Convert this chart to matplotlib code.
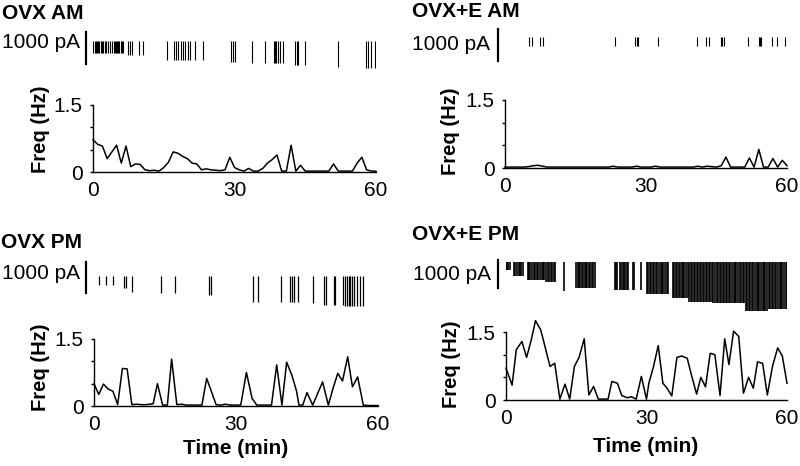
import matplotlib
matplotlib.use('Agg')
import matplotlib.pyplot as plt

plt.rcParams['font.family'] = ['Liberation Sans', 'DejaVu Sans']

# ---------------- data ----------------
titles = ['OVX AM', 'OVX+E AM', 'OVX PM', 'OVX+E PM']

# frequency (Hz) per ~1 min bin
minutes = list(range(61))
freq_ovx_am = [0.72, 0.62, 0.58, 0.30, 0.45, 0.60, 0.20, 0.58, 0.12, 0.18,
               0.17, 0.05, 0.03, 0.04, 0.02, 0.10, 0.22, 0.45, 0.42, 0.35,
               0.30, 0.20, 0.18, 0.05, 0.07, 0.05, 0.04, 0.03, 0.05, 0.33,
               0.10, 0.05, 0.02, 0.08, 0.02, 0.02, 0.08, 0.20, 0.28, 0.38,
               0.02, 0.02, 0.60, 0.02, 0.15, 0.02, 0.02, 0.02, 0.02, 0.02,
               0.02, 0.18, 0.02, 0.02, 0.02, 0.02, 0.20, 0.33, 0.05, 0.02,
               0.02]
freq_ovxe_am = [0.02, 0.02, 0.02, 0.02, 0.02, 0.03, 0.05, 0.06, 0.04, 0.02,
                0.02, 0.02, 0.02, 0.02, 0.02, 0.02, 0.02, 0.02, 0.02, 0.02,
                0.02, 0.02, 0.02, 0.04, 0.02, 0.02, 0.02, 0.02, 0.04, 0.02,
                0.02, 0.02, 0.04, 0.02, 0.02, 0.02, 0.02, 0.02, 0.02, 0.02,
                0.02, 0.04, 0.02, 0.04, 0.03, 0.02, 0.05, 0.24, 0.02, 0.02,
                0.02, 0.02, 0.22, 0.02, 0.41, 0.02, 0.02, 0.21, 0.02, 0.17,
                0.05]
time_ovx_pm = [0, 1, 2, 3, 4, 5, 6, 7, 8, 9, 10, 11, 12.5, 13.4, 14.5, 15.5,
               16.4, 17.5, 18.5, 19.5, 20.5, 21.7, 22.8, 23.8, 25.8, 26.8,
               27.8, 28.8, 30, 31, 32.2, 33.4, 34.4, 35.5, 36.5, 37.5, 38.6,
               39.7, 40.7, 41.8, 42.8, 43.3, 44.1, 45.0, 46.2, 48.3, 49.5,
               50.6, 51.5, 52.5, 53.6, 54.6, 55.7, 56.9, 58, 59, 60]
freq_ovx_pm = [0.50, 0.26, 0.49, 0.38, 0.33, 0.03, 0.84, 0.83, 0.03, 0.04,
               0.03, 0.03, 0.05, 0.50, 0.02, 0.02, 1.05, 0.03, 0.04, 0.02,
               0.02, 0.02, 0.02, 0.62, 0.03, 0.02, 0.04, 0.02, 0.02, 0.02,
               0.75, 0.17, 0.02, 0.02, 0.02, 0.02, 0.92, 0.02, 0.98, 0.69,
               0.33, 0.02, 0.02, 0.30, 0.02, 0.54, 0.02, 0.43, 0.73, 0.56,
               1.10, 0.43, 0.65, 0.02, 0.01, 0.01, 0.01]
time_ovxe_pm = [0, 1.3, 2.2, 3.4, 4.4, 5.4, 6.3, 7.4, 8.4, 9.4, 10.4, 11.5,
                12.6, 13.6, 14.6, 15.6, 16.7, 17.7, 18.7, 19.7, 20.8, 21.8,
                22.6, 23.8, 24.7, 25.9, 26.8, 27.8, 28.9, 30.0, 30.5, 31.5,
                32.5, 33.5, 34.4, 35.4, 36.5, 37.5, 38.7, 39.6, 40.7, 41.6,
                42.6, 43.6, 44.6, 45.7, 46.7, 47.6, 48.6, 49.7, 50.7, 51.8,
                52.8, 53.7, 54.8, 55.8, 56.9, 58.0, 59.0, 60.0]
freq_ovxe_pm = [0.70, 0.33, 1.11, 1.29, 0.94, 1.33, 1.75, 1.55, 1.15, 0.74,
                0.81, 0.02, 0.35, 0.02, 0.74, 0.94, 1.35, 0.11, 0.30, 0.02,
                0.02, 0.02, 0.41, 0.37, 0.10, 0.05, 0.07, 0.02, 0.52, 0.02,
                0.37, 0.74, 1.20, 0.37, 0.26, 0.09, 0.94, 0.97, 0.92, 0.55,
                0.13, 0.50, 0.29, 1.03, 1.00, 0.10, 1.35, 0.78, 1.52, 1.40,
                0.15, 0.50, 0.26, 0.84, 0.81, 0.11, 0.74, 1.15, 0.97, 0.37]

# current events: (amplitude in pA, event times in min)
events_ovx_am = [
    (380, [0.1, 0.35, 0.6, 0.85, 1.1, 1.35, 1.6, 1.85, 2.1, 2.5, 2.8, 3.1,
           3.5, 4.1, 4.35, 4.6, 4.85, 5.1, 5.35, 5.6, 5.85, 6.1, 6.4]),
    (450, [7.5, 7.8, 8.3, 9.8, 10.7]),
    (600, [15.7, 17.1, 17.6, 18.1, 18.6, 19.1, 19.6, 20.1, 20.6, 21.6, 23.4]),
    (650, [29.2, 29.6, 30.1]),
    (700, [33.8, 36.4, 38.4, 38.6, 38.9, 39.3, 39.6, 40.2]),
    (750, [42.8, 43.2, 43.5, 44.9]),
    (810, [52.0]),
    (850, [57.9, 58.4, 58.9, 59.8]),
]
events_ovxe_am = [
    (280, [5.2, 5.8, 7.4, 8.1, 23.5, 27.7, 28.1, 28.4, 32.6, 40.9, 42.8, 43.3,
           46.0, 46.2, 46.5, 51.6, 54.0, 54.2, 54.4, 56.8, 57.9, 59.6]),
]
events_ovx_pm = [
    (290, [1.1, 2.5, 4.0]),
    (390, [6.4, 6.8]),
    (520, [8.1]),
    (550, [14.1, 17.1]),
    (620, [24.3, 24.7]),
    (840, [33.5, 34.7, 39.5, 41.4, 41.9, 42.3, 43.2]),
    (880, [46.2]),
    (940, [48.6, 49.0, 50.6, 51.0, 52.5]),
    (970, [53.1, 53.4, 53.8, 54.1, 54.6, 55.0, 55.5, 56.2, 56.8]),
]
events_ovxe_pm = [
    (300, [0.1, 0.3, 0.5, 0.8]),
    (500, [1.7, 2.0, 2.3, 2.7, 3.0, 3.3, 3.6]),
    (640, [4.6, 4.9, 5.2, 5.6, 5.9, 6.2, 6.6, 6.9, 7.2, 7.6, 7.9, 8.2]),
    (710, [8.6, 8.9, 9.2, 9.6, 9.9, 10.2, 10.5]),
    (1050, [12.4]),
    (930, [15.0, 15.3, 15.6, 15.9, 16.2, 16.5, 16.8, 17.1, 17.4, 17.7, 18.0,
           18.3, 18.6, 18.9]),
    (1000, [23.2, 23.5, 23.8, 24.3, 24.6, 24.9, 25.2, 25.5, 25.8, 26.1, 27.2,
            27.4, 28.9]),
    (1140, [30.1, 30.4, 30.7, 31.0, 31.4, 31.7, 32.0, 32.3, 32.6, 33.0, 33.3,
            33.6, 33.9, 34.3, 34.6]),
    (1290, [35.6, 35.9, 36.2, 36.6, 36.9, 37.2, 37.5, 37.8, 38.1, 38.5, 38.8]),
    (1430, [39.1, 39.4, 39.7, 40.1, 40.4, 40.7, 41.0, 41.4, 41.7, 42.0, 42.3,
            42.7, 43.0, 43.3, 43.6, 44.0]),
    (1460, [44.3, 44.6, 45.0, 45.3, 45.6, 45.9, 46.3, 46.6, 46.9, 47.2, 47.6,
            47.9, 48.2, 48.6, 48.9, 49.2, 49.5, 49.9, 50.2, 50.5, 50.8]),
    (1750, [51.2, 51.5, 51.8, 52.1, 52.5, 52.8, 53.1, 53.5, 53.8, 54.1, 54.4,
            54.8, 55.1, 55.4, 55.8]),
    (1680, [56.1, 56.4, 56.7, 57.1, 57.4, 57.7, 58.0, 58.4, 58.7, 59.0, 59.4,
            59.7, 60.0]),
]

scale_pA = 1000
x_ticks = [0, 30, 60]
y_ticks = [0, 0.5, 1.0, 1.5]
y_ticklabels = ['0', '', '', '1.5']

# ---------------- layout (pixels) ----------------
W, H = 800, 466
fig = plt.figure(figsize=(8, 4.66), dpi=100)


def px_axes(x0, x1, ytop, ybot):
    return fig.add_axes([x0 / W, 1 - ybot / H, (x1 - x0) / W, (ybot - ytop) / H])


panels = [
    # freq box (x0, x1, y at 1.5, y at 0), raster (top, baseline, bottom, pA per px)
    dict(title=titles[0], ev=events_ovx_am, t=minutes, f=freq_ovx_am,
         fb=(93, 376, 105, 172), rb=(18, 41, 80, 31.25), sbx=-1.5, sbt=280,
         tp=(2, 19), lp=(80, 48), yl=(41, 129), xl=None, lw=0.8),
    dict(title=titles[1], ev=events_ovxe_am, t=minutes, f=freq_ovxe_am,
         fb=(505, 787, 100, 168), rb=(18, 37, 80, 31.25), sbx=-1.55, sbt=250,
         tp=(412, 17), lp=(490, 50), yl=(451, 131), xl=None, lw=0.8),
    dict(title=titles[2], ev=events_ovx_pm, t=time_ovx_pm, f=freq_ovx_pm,
         fb=(94, 378, 339, 406), rb=(255, 276, 320, 32.3), sbx=-1.7, sbt=450,
         tp=(1, 248), lp=(80, 279), yl=(41, 367), xl=(236, 448), lw=0.9),
    dict(title=titles[3], ev=events_ovxe_pm, t=time_ovxe_pm, f=freq_ovxe_pm,
         fb=(506, 787, 332, 400), rb=(250, 262, 325, 35.7), sbx=-1.7, sbt=70,
         tp=(412, 240), lp=(491, 280), yl=(452, 364), xl=(646, 447), lw=1.2),
]

for p in panels:
    x0, x1, y15, y0 = p['fb']
    top, base, bot, s = p['rb']

    # raster of current events
    ra = px_axes(x0, x1, top, bot)
    ra.set_xlim(0, 60)
    ra.set_ylim(-(bot - base) * s, (base - top) * s)
    ra.axis('off')
    for amp, times in p['ev']:
        lc = ra.vlines(times, -amp, 0, color='black', lw=p['lw'])
        lc.set_snap(True)
    ra.plot([p['sbx'], p['sbx']], [p['sbt'], p['sbt'] - scale_pA],
            color='black', lw=1.6, clip_on=False)

    # frequency trace
    ax = px_axes(x0, x1, y15, y0)
    ax.plot(p['t'], p['f'], color='black', lw=1.1, clip_on=False)
    ax.set_xlim(0, 60)
    ax.set_ylim(0, 1.5)
    for side in ['top', 'right']:
        ax.spines[side].set_visible(False)
    for side in ['left', 'bottom']:
        ax.spines[side].set_linewidth(1.0)
    ax.set_xticks(x_ticks)
    ax.set_yticks(y_ticks)
    ax.set_yticklabels(y_ticklabels)
    ax.tick_params(axis='x', length=0, pad=6.5, labelsize=15)
    ax.tick_params(axis='y', length=2.5, width=1.0, pad=5, labelsize=15)

    fig.text(p['tp'][0] / W, 1 - p['tp'][1] / H, p['title'], fontsize=15,
             fontweight='bold', ha='left', va='baseline')
    fig.text(p['lp'][0] / W, 1 - p['lp'][1] / H, '1000 pA', fontsize=15,
             ha='right', va='baseline')
    fig.text(p['yl'][0] / W, 1 - p['yl'][1] / H, 'Freq (Hz)', fontsize=14.5,
             fontweight='bold', rotation=90, ha='center', va='center')
    if p['xl'] is not None:
        fig.text(p['xl'][0] / W, 1 - p['xl'][1] / H, 'Time (min)', fontsize=15,
                 fontweight='bold', ha='center', va='center')

fig.savefig('out.png', dpi=100)
